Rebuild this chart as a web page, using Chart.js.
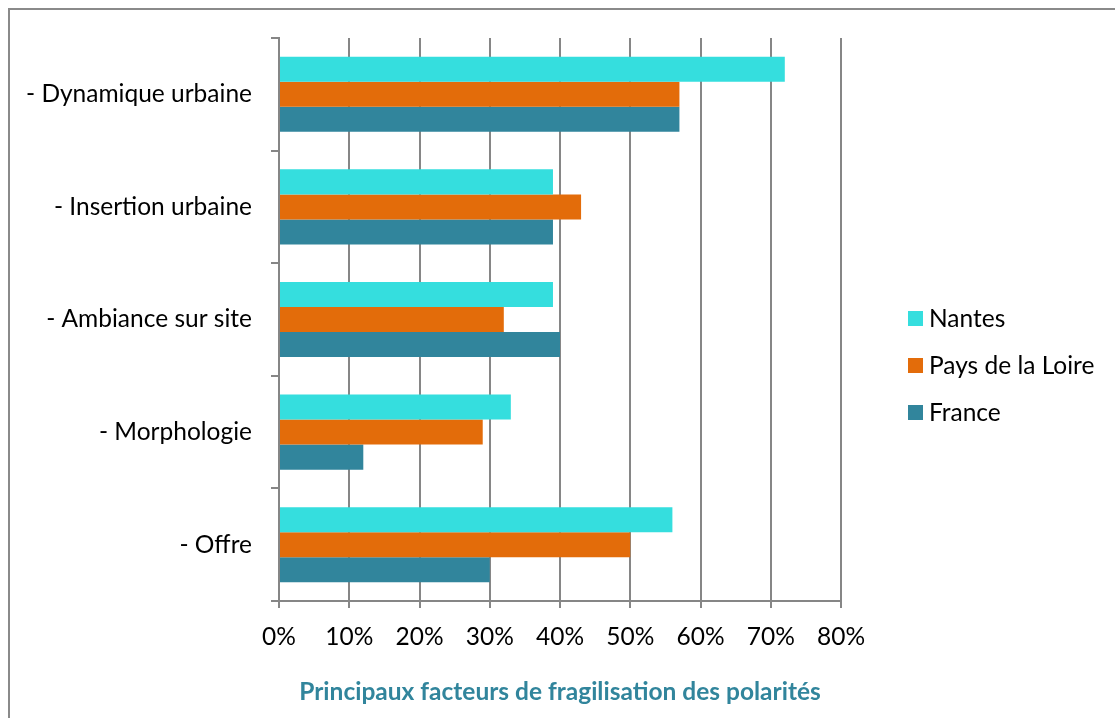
<!DOCTYPE html>
<html>
<head>
<meta charset="utf-8">
<script src="https://cdn.jsdelivr.net/npm/chart.js@4"></script>
<style>
  html, body { margin:0; padding:0; background:#fff; }
  #wrap { position:relative; width:1115px; height:718px; overflow:hidden; }
  #frame { position:absolute; left:8px; top:8px; width:1200px; height:800px;
           border-left:2px solid #8a8a8a; border-top:2px solid #8a8a8a; box-sizing:border-box; }
  #c { position:absolute; left:0; top:0; }
</style>
</head>
<body>
<div id="wrap">
  <div id="frame"></div>
  <canvas id="c" width="1115" height="718"></canvas>
</div>
<script>
// données (en %)
const categories = ["- Dynamique urbaine", "- Insertion urbaine", "- Ambiance sur site", "- Morphologie", "- Offre"];
const nantes     = [72, 39, 39, 33, 56];
const paysLoire  = [57, 43, 32, 29, 50];
const france     = [57, 39, 40, 12, 30];
const seriesNames = ["Nantes", "Pays de la Loire", "France"];
const xTicks = [0, 10, 20, 30, 40, 50, 60, 70, 80];
const chartTitle = "Principaux facteurs de fragilisation des polarités";

const FONT = "Lato";
const FSIZE = 24.5;
const GRID = '#868686';

// légende dessinée à droite, à partir du milieu de la zone du graphique
const sideLegend = {
  id: 'sideLegend',
  afterDraw(chart) {
    const ctx = chart.ctx;
    const mid = (chart.chartArea.top + chart.chartArea.bottom) / 2;
    ctx.save();
    ctx.font = FSIZE + "px " + FONT;
    ctx.textBaseline = 'middle';
    ctx.textAlign = 'left';
    chart.data.datasets.forEach((ds, i) => {
      const y = mid + i * 47 - 1;
      ctx.fillStyle = ds.backgroundColor;
      ctx.fillRect(908, y - 7.5, 15, 15);
      ctx.fillStyle = '#000';
      ctx.fillText(ds.label, 929, y + 1);
    });
    ctx.restore();
  }
};

new Chart(document.getElementById("c"), {
  type: "bar",
  data: {
    labels: categories,
    datasets: [
      { label: seriesNames[0], data: nantes,    backgroundColor: '#35DEDE' },
      { label: seriesNames[1], data: paysLoire, backgroundColor: '#E36C0A' },
      { label: seriesNames[2], data: france,    backgroundColor: '#31859C' }
    ]
  },
  options: {
    indexAxis: 'y',
    responsive: false,
    animation: false,
    devicePixelRatio: 1,
    layout: { padding: { left: 0, right: 274, top: 38, bottom: 0 } },
    datasets: { bar: { barPercentage: 1, categoryPercentage: 0.667 } },
    scales: {
      x: {
        min: 0, max: 80,
        afterBuildTicks: s => { s.ticks = xTicks.map(v => ({ value: v })); },
        afterFit: s => { s.height = 117; },
        ticks: {
          color: '#000', padding: 14,
          font: { family: FONT, size: FSIZE },
          callback: v => v + '%'
        },
        grid: { color: GRID, lineWidth: 2, tickLength: 7 },
        border: { color: GRID, width: 2 },
        title: {
          display: true, text: chartTitle, color: '#31859C',
          font: { family: FONT, size: 24.5, weight: 'bold' },
          padding: { top: 0, bottom: 11 }
        }
      },
      y: {
        afterFit: s => { s.width = 279; },
        ticks: { color: '#000', padding: 19, font: { family: FONT, size: FSIZE } },
        grid: { color: GRID, lineWidth: 2, tickLength: 8, drawOnChartArea: false, offset: true },
        border: { color: GRID, width: 2 }
      }
    },
    plugins: {
      legend: { display: false },
      tooltip: { enabled: false }
    }
  },
  plugins: [sideLegend]
});
</script>
</body>
</html>
